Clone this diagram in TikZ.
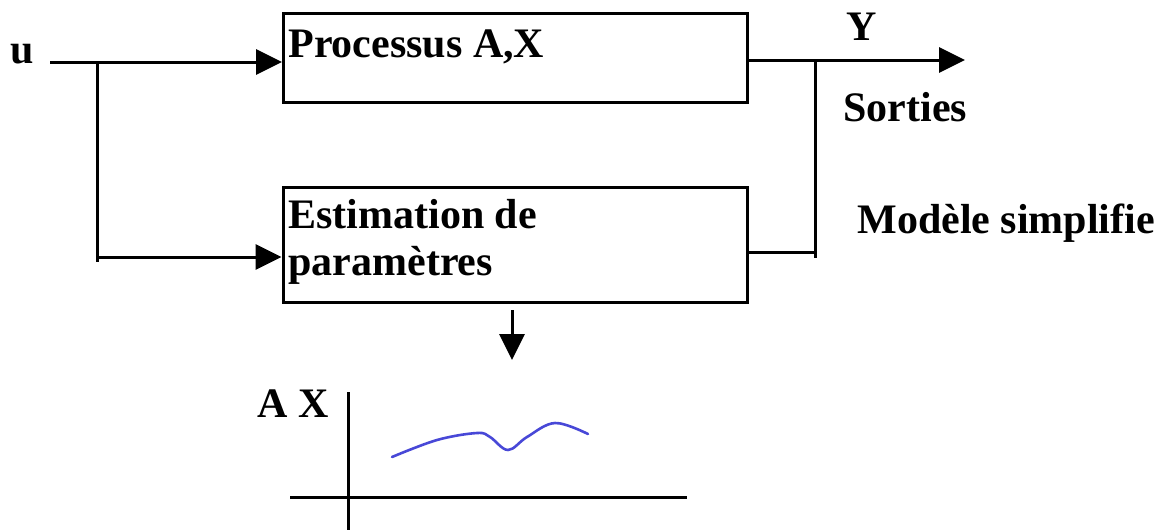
\documentclass[tikz,border=0pt]{standalone}
\usepackage{fontspec}
\setmainfont{Liberation Serif}
\usetikzlibrary{arrows.meta, positioning}
\definecolor{curveblue}{RGB}{72,72,215}

\begin{document}
\begin{tikzpicture}[x=0.5pt, y=-0.5pt, font=\bfseries\fontsize{21}{23.5}\selectfont,
  box/.style = {draw, line width=1.5pt, minimum width=232pt, inner sep=0pt},
  txt/.style = {inner sep=0pt, anchor=base west, align=left},
  arrow/.style = {-{Triangle[length=13pt, width=12.5pt]}, line width=1.5pt},
  wire/.style = {line width=1.5pt},
  curve/.style = {curveblue, line width=1.3pt, line cap=round}
]
\useasboundingbox (0,0) rectangle (1154,530);
% blocks
\node[box, minimum height=44.5pt] (proc) at (515.5,57.5) {};
\node[box, minimum height=57.5pt] (estim) at (515,244.5) {};
\node[txt] (proc_txt) at (288,57) {Processus A,X};
\node[txt] (estim_txt) at (288,275) {Estimation de\\paramètres};
% input u
\node[txt, anchor=base] (u) at (22,63) {u};
\coordinate (u_start) at (50,62);
\coordinate (split_in) at (97,62);
\coordinate (split_low) at (97,257);
\coordinate (split_end) at (97,262);
\draw[arrow] (u_start) -- (u_start -| proc.west);
\draw[wire] (split_in) -- (split_end);
\draw[arrow] (split_low) -- (split_low -| estim.west);
% output Y
\coordinate (out_end) at (965,60);
\coordinate (split_out) at (815,60);
\coordinate (fb) at (815,252);
\coordinate (split_out_end) at (815,258);
\draw[arrow] (out_end -| proc.east) -- (out_end);
\draw[wire] (split_out) -- (split_out_end);
\draw[wire] (fb -| estim.east) -- (fb);
\node[txt, anchor=base] (y_lbl) at (862,40) {Y};
\node[txt] (sorties) at (843,121) {Sorties};
\node[txt] (modele) at (857,233) {Modèle simplifie};
% estimated parameters
\coordinate (down_start) at (512,310);
\coordinate (down_end) at (512,360);
\draw[arrow] (down_start) -- (down_end);
\coordinate (ax_top) at (348,392);
\coordinate (ax_bot) at (348,530);
\coordinate (ax_left) at (290,497);
\coordinate (ax_right) at (687,497);
\draw[wire] (ax_top) -- (ax_bot);
\draw[wire] (ax_left) -- (ax_right);
\node[txt] (ax_lbl) at (257,417) {A X};
\draw[curve] plot[smooth, tension=0.6] coordinates {(392,457) (437,440) (477,433) (490,437) (508,450) (527,437) (555,423) (588,434)};
\end{tikzpicture}
\end{document}
